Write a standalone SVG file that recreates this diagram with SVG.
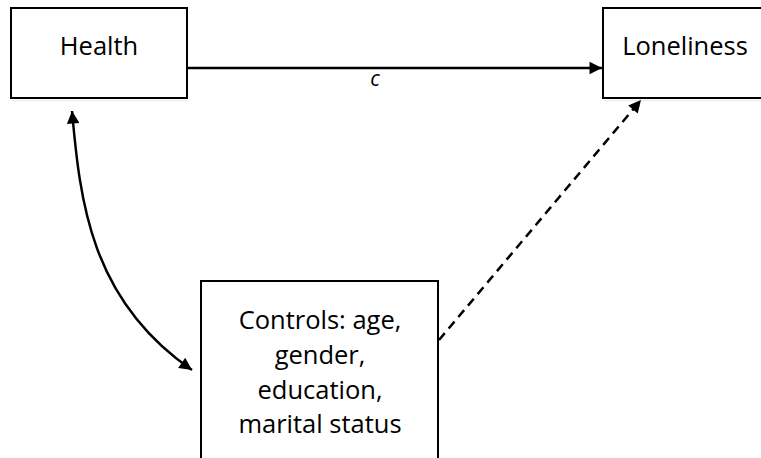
<svg xmlns="http://www.w3.org/2000/svg" width="761" height="458" viewBox="0 0 761 458">
<style>
.box{fill:#fff;stroke:#000;stroke-width:2}
.lbl{font-family:"Open Sans","Liberation Sans",sans-serif;font-size:25.5px;fill:#000;text-anchor:middle}
.edge{fill:none;stroke:#000;stroke-width:2.5}
.shadow{stroke:#ececec;stroke-width:1.5}
</style>
<defs>
<marker id="ah" viewBox="0 0 10 10" refX="10" refY="5" markerWidth="6" markerHeight="5" markerUnits="strokeWidth" orient="auto-start-reverse">
<path d="M0,0 L10,5 L0,10 Z" fill="#000"/>
</marker>
</defs>
<rect width="761" height="458" fill="#fff"/>
<line class="shadow" x1="12" y1="100.5" x2="188" y2="100.5"/>
<line class="shadow" x1="604" y1="100.5" x2="761" y2="100.5"/>
<g id="connectors">
<line class="edge" x1="187" y1="68" x2="602" y2="68" marker-end="url(#ah)"/>
<text x="375" y="86" style="font-family:'Open Sans','Liberation Sans',sans-serif;font-size:21px;font-style:italic" text-anchor="middle">c</text>
<path class="edge" d="M72,111 C80,200 90,300 192,370" marker-start="url(#ah)" marker-end="url(#ah)"/>
<line class="edge" x1="439" y1="340" x2="641" y2="100" stroke-dasharray="9,6" marker-end="url(#ah)"/>
</g>
<g id="health">
<rect class="box" x="11" y="8" width="176" height="90"/>
<text class="lbl" x="99" y="55">Health</text>
</g>
<g id="loneliness">
<rect class="box" x="603" y="8" width="170" height="90"/>
<text class="lbl" x="685" y="55">Loneliness</text>
</g>
<g id="controls">
<rect class="box" x="201" y="281" width="237" height="190"/>
<text class="lbl" x="320" y="329">Controls: age,</text>
<text class="lbl" x="320" y="364">gender,</text>
<text class="lbl" x="320" y="399">education,</text>
<text class="lbl" x="320" y="433">marital status</text>
</g>
</svg>
